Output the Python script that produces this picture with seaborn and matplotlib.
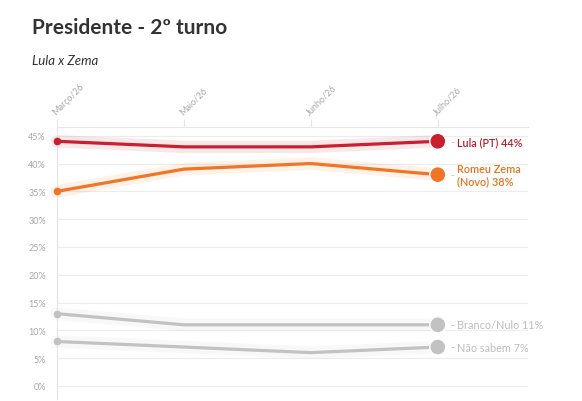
import pandas as pd
import matplotlib.pyplot as plt
import matplotlib.patheffects as pe
import seaborn as sns

# data
months = ['Março/26', 'Maio/26', 'Junho/26', 'Julho/26']
lula = [44, 43, 43, 44]
zema = [35, 39, 40, 38]
branco = [13, 11, 11, 11]
nao_sabem = [8, 7, 6, 7]

series_names = ['Lula (PT)', 'Romeu Zema\n(Novo)', 'Branco/Nulo', 'Não sabem']
series_values = [lula, zema, branco, nao_sabem]
colors = ['#c8202e', '#f07626', '#c2c2c2', '#c2c2c2']
label_colors = ['#b51f2c', '#e8701f', '#bdbdbd', '#bdbdbd']
yticks = [0, 5, 10, 15, 20, 25, 30, 35, 40, 45]

rows = []
for name, vals in zip(series_names, series_values):
    for i, v in enumerate(vals):
        rows.append({'serie': name, 'x': i, 'valor': v})
df = pd.DataFrame(rows)

sns.set_style('white')
plt.rcParams['font.family'] = ['Lato', 'DejaVu Sans']

fig = plt.figure(figsize=(5.82, 4.02), dpi=100)
ax = fig.add_axes([0.098, 0.005, 0.809, 0.677])

palette = dict(zip(series_names, colors))

# glow underneath
sns.lineplot(data=df, x='x', y='valor', hue='serie', palette=palette, ax=ax,
             linewidth=9, alpha=0.1, legend=False, zorder=1)
sns.lineplot(data=df, x='x', y='valor', hue='serie', palette=palette, ax=ax,
             linewidth=2.3, legend=False, zorder=3)
for ln in ax.lines:
    ln.set_clip_on(False)

for name, vals, c, lc in zip(series_names, series_values, colors, label_colors):
    ax.plot(0, vals[0], 'o', color=c, ms=4.5, zorder=4, clip_on=False)
    ax.plot(3, vals[-1], 'o', color=c, ms=9.5, zorder=4, clip_on=False,
            path_effects=[pe.withStroke(linewidth=3, foreground='white')])
    ax.text(3.1, vals[-1], '-', color='#bbbbbb', fontsize=7, va='center', ha='left')
    bold = 'semibold' if c != '#c2c2c2' else 'normal'
    lines = name.split('\n')
    if len(lines) == 1:
        txt = f'{name} {vals[-1]}%'
    else:
        txt = f'{lines[0]}\n{lines[1]} {vals[-1]}%'
    ax.text(3.155, vals[-1], txt, color=lc, fontsize=7.8, va='center', ha='left',
            fontweight=bold, linespacing=1.15)

ax.set_xlim(0, 3.71)
ax.set_ylim(-2.34, 46.6)
ax.set_yticks(yticks)
ax.set_yticklabels([f'{t}%' for t in yticks])
ax.set_xticks(range(len(months)))
ax.xaxis.tick_top()
ax.set_xticklabels(months, rotation=45, ha='left', va='bottom', rotation_mode='anchor')
ax.tick_params(axis='x', length=6, color='#e6e6e6', labelsize=6.5, labelcolor='#a8a8a8', pad=2)
ax.tick_params(axis='y', length=0, labelsize=6.5, labelcolor='#a8a8a8', pad=8)
ax.set_xlabel('')
ax.set_ylabel('')
ax.grid(axis='y', color='#ececec', linewidth=0.8)
ax.set_axisbelow(True)
for side in ['right', 'bottom']:
    ax.spines[side].set_visible(False)
for side in ['left', 'top']:
    ax.spines[side].set_color('#e6e6e6')
    ax.spines[side].set_linewidth(0.8)

fig.text(0.055, 0.93, 'Presidente - 2º turno', fontsize=15, fontweight='bold',
         color='#333333', ha='left', va='center')
fig.text(0.055, 0.848, 'Lula x Zema', fontsize=9.5, style='italic',
         color='#333333', ha='left', va='center')

fig.savefig('out.png', dpi=100)
